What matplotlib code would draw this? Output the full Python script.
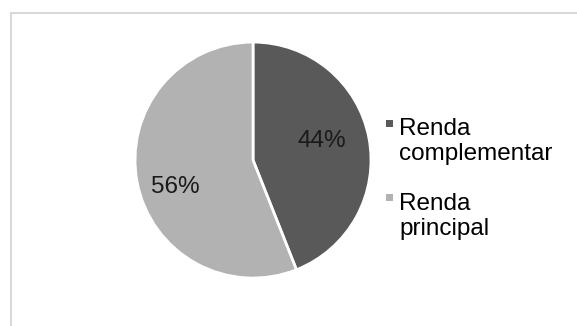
import matplotlib.pyplot as plt
from matplotlib.lines import Line2D
from matplotlib.patches import Patch, Rectangle
from matplotlib.legend_handler import HandlerBase

labels = ['Renda\ncomplementar', 'Renda\nprincipal']
shares = [44, 56]
colors = ['#595959', '#b2b2b2']
# where Excel put the data labels (in pie radius units)
label_pos = [(0.585, 0.165), (-0.655, -0.23)]


class FirstLineSquare(HandlerBase):
    # small square next to the first line of a two-line legend label
    def create_artists(self, legend, orig_handle, xdescent, ydescent,
                       width, height, fontsize, trans):
        s = 0.29 * fontsize
        x = -xdescent + width / 2 - s / 2
        y = -ydescent + height / 2 + 0.76 * fontsize - s / 2
        r = Rectangle((x, y), s, s, facecolor=orig_handle.get_facecolor(),
                      edgecolor='none', transform=trans)
        return [r]


plt.rcParams['font.family'] = ['Liberation Sans', 'DejaVu Sans']

fig = plt.figure(figsize=(5.77, 3.26), dpi=100)
fig.patch.set_facecolor('white')

# light frame, cut off on the right and bottom like the source
frame_color = '#d9d9d9'
fig.add_artist(Line2D([0.019, 0.019], [0.0, 0.960], color=frame_color, lw=1.5,
                      transform=fig.transFigure))
fig.add_artist(Line2D([0.019, 1.0], [0.960, 0.960], color=frame_color, lw=1.5,
                      transform=fig.transFigure))

ax = fig.add_axes([0.234, 0.147, 0.409, 0.724])
wedges, texts, autotexts = ax.pie(
    shares, colors=colors, startangle=90, counterclock=False,
    autopct='%1.0f%%', pctdistance=0.62,
    wedgeprops={'edgecolor': 'white', 'linewidth': 2},
    textprops={'fontsize': 17.5, 'color': '#1a1a1a'})
for t, pos in zip(autotexts, label_pos):
    t.set_position(pos)
ax.set_xlim(-1.0, 1.0)
ax.set_ylim(-1.0, 1.0)
ax.set_aspect('equal')

handles = [Patch(facecolor=c) for c in colors]
fig.legend(handles, labels, loc='upper left', bbox_to_anchor=(0.650, 0.668),
           frameon=False, fontsize=17.5, handlelength=0.4, handletextpad=0.2,
           labelspacing=1.12, borderaxespad=0,
           handler_map={Patch: FirstLineSquare()})

fig.savefig('out.png', dpi=100, facecolor='white')
